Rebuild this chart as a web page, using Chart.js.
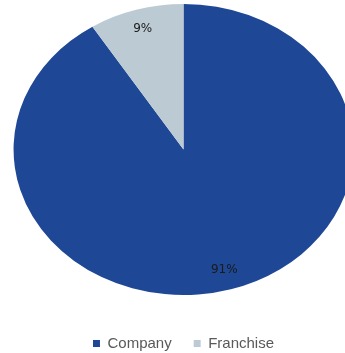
<!DOCTYPE html>
<html>
<head>
<meta charset="utf-8">
<script src="https://cdn.jsdelivr.net/npm/chart.js@4"></script>
<style>
  html, body { margin: 0; padding: 0; background: #fff; overflow: hidden; }
  body { width: 345px; height: 353px; position: relative; }
  /* canvas runs a little past the window so the legend sits low */
  #wrap { position: absolute; left: 0; top: -15px; width: 345px; height: 376px; }
</style>
</head>
<body>
<div id="wrap"><canvas id="shareChart"></canvas></div>
<script>
const categories = ['Company', 'Franchise'];
const shares = [91, 9];
const sliceColors = ['#1E4796', '#BCCBD3'];

// the pie is drawn wider than tall
const stretchX = 1.168;
const labelRadius = 0.86;

const ellipsePie = {
  id: 'ellipsePie',
  beforeDatasetsDraw(chart) {
    const arc = chart.getDatasetMeta(0).data[0];
    const ctx = chart.ctx;
    ctx.save();
    ctx.translate(arc.x, arc.y);
    ctx.scale(stretchX, 1);
    ctx.translate(-arc.x, -arc.y);
  },
  afterDatasetsDraw(chart) {
    const ctx = chart.ctx;
    ctx.restore();

    const values = chart.data.datasets[0].data;
    const total = values.reduce((a, b) => a + b, 0);
    ctx.save();
    ctx.font = '12px "DejaVu Sans"';
    ctx.fillStyle = '#1a1a1a';
    ctx.textAlign = 'center';
    ctx.textBaseline = 'middle';
    chart.getDatasetMeta(0).data.forEach((arc, i) => {
      const mid = (arc.startAngle + arc.endAngle) / 2;
      const r = arc.outerRadius * labelRadius;
      const x = arc.x + Math.cos(mid) * r * stretchX;
      const y = arc.y + Math.sin(mid) * r;
      ctx.fillText(Math.round(values[i] / total * 100) + '%', x, y);
    });
    ctx.restore();
  }
};

const ctx = document.getElementById('shareChart').getContext('2d');
const chart = new Chart(ctx, {
  type: 'pie',
  data: {
    labels: categories,
    datasets: [{
      data: shares,
      backgroundColor: sliceColors,
      borderWidth: 0
    }]
  },
  options: {
    responsive: true,
    maintainAspectRatio: false,
    animation: false,
    devicePixelRatio: 1,
    layout: {
      padding: { left: 38, right: 16, top: 0, bottom: 0 }
    },
    plugins: {
      tooltip: { enabled: false },
      legend: {
        position: 'bottom',
        labels: {
          boxWidth: 7,
          boxHeight: 7,
          padding: 22,
          color: '#595959',
          font: { family: 'Liberation Sans', size: 15 }
        }
      }
    }
  },
  plugins: [ellipsePie]
});
</script>
</body>
</html>
